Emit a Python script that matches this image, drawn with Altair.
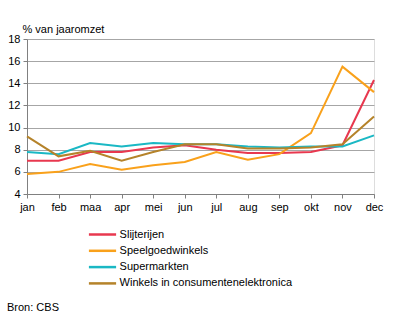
import altair as alt
import pandas as pd

months = ["jan", "feb", "maa", "apr", "mei", "jun", "jul", "aug", "sep", "okt", "nov", "dec"]
series_names = ["Slijterijen", "Speelgoedwinkels", "Supermarkten", "Winkels in consumentenelektronica"]
slijterijen = [7.0, 7.0, 7.8, 7.8, 8.2, 8.4, 8.0, 7.7, 7.7, 7.8, 8.4, 14.3]
speelgoed = [5.8, 6.0, 6.7, 6.2, 6.6, 6.9, 7.8, 7.1, 7.6, 9.5, 15.5, 13.2]
supermarkten = [7.8, 7.6, 8.6, 8.3, 8.6, 8.5, 8.5, 8.3, 8.2, 8.3, 8.3, 9.3]
elektronica = [9.2, 7.4, 7.9, 7.0, 7.8, 8.5, 8.5, 8.1, 8.1, 8.2, 8.5, 11.0]
colors = ["#e8384f", "#f9a11b", "#1ab8c4", "#b5832a"]

rows = []
for name, vals in zip(series_names, [slijterijen, speelgoed, supermarkten, elektronica]):
    for m, v in zip(months, vals):
        rows.append({"maand": m, "waarde": v, "reeks": name})
df = pd.DataFrame(rows)

font = "Liberation Sans"

lines = alt.Chart(df).mark_line(strokeWidth=2).encode(
    x=alt.X("maand:N", sort=months,
            scale=alt.Scale(type="point", padding=0),
            axis=alt.Axis(title=None, labelAngle=0, grid=False, tickSize=4,
                          labelPadding=3, domainColor="#808080", tickColor="#808080",
                          labelFont=font, labelFontSize=11, labelColor="#000")),
    y=alt.Y("waarde:Q", scale=alt.Scale(domain=[4, 18], nice=False),
            axis=alt.Axis(values=[4, 6, 8, 10, 12, 14, 16, 18], title="% van jaaromzet",
                          titleAngle=0, titleX=-5, titleY=-7, titleAlign="left",
                          titleBaseline="alphabetic", titleFont=font, titleFontSize=11,
                          titleFontWeight="normal", titleColor="#000",
                          tickSize=4, labelPadding=3, gridColor="#a6a6a6",
                          domainColor="#808080", tickColor="#808080",
                          labelFont=font, labelFontSize=11, labelColor="#000")),
    color=alt.Color("reeks:N", sort=series_names,
                    scale=alt.Scale(domain=series_names, range=colors),
                    legend=alt.Legend(title=None, orient="none", legendX=66, legendY=186,
                                      symbolType="M-1.7,0H1.7", symbolSize=256,
                                      symbolStrokeWidth=2.5, labelLimit=400,
                                      labelFont=font, labelFontSize=11, labelColor="#000",
                                      rowPadding=1.3, labelOffset=7.6)),
)

source = alt.Chart(pd.DataFrame({"t": ["Bron: CBS"]})).mark_text(
    align="left", baseline="alphabetic", font=font, fontSize=11, color="#000"
).encode(text="t:N", x=alt.value(-20), y=alt.value(272))

chart = alt.layer(lines, source).properties(
    width=347, height=155,
    autosize=alt.AutoSizeParams(type="none"),
    padding={"left": 27, "top": 39, "right": 22, "bottom": 127},
).configure_view(stroke="#808080", strokeWidth=1).configure(background="white")

chart.save("out.html", embed_options={"renderer": "svg", "actions": False})
